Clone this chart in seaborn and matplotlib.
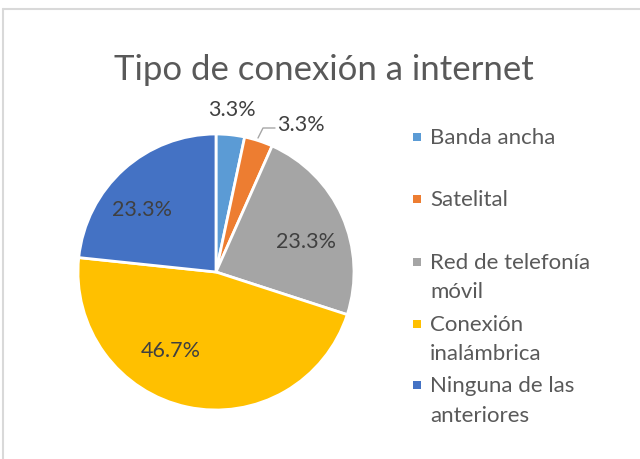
import matplotlib
matplotlib.use("Agg")
import matplotlib.pyplot as plt
import seaborn as sns
from matplotlib.lines import Line2D
from matplotlib.patches import Rectangle

categories = ["Banda ancha", "Satelital", "Red de telefonía móvil",
              "Conexión inalámbrica", "Ninguna de las anteriores"]
legend_labels = ["Banda ancha", "Satelital", "Red de telefonía\nmóvil",
                 "Conexión\ninalámbrica", "Ninguna de las\nanteriores"]
values = [1, 1, 7, 14, 7]
colors = ["#5B9BD5", "#ED7D31", "#A5A5A5", "#FFC000", "#4472C4"]
title = "Tipo de conexión a internet"

sns.set_theme(style="white")
plt.rcParams["font.family"] = ["Lato", "DejaVu Sans"]
TXT = "#595959"
LBL = "#404040"

W, H = 640, 459
fig = plt.figure(figsize=(W / 100, H / 100), dpi=100)
fig.patch.set_facecolor("white")

def fx(x):
    return x / W

def fy(y):
    return 1 - y / H

# chart-area frame
fig.add_artist(Line2D([fx(3), fx(3)], [fy(9), 0], color="#D9D9D9", lw=1.5, transform=fig.transFigure))
fig.add_artist(Line2D([fx(3), 1], [fy(9), fy(9)], color="#D9D9D9", lw=1.5, transform=fig.transFigure))

cx, cy, r = 216, 272, 138
ax = fig.add_axes([fx(cx - r), fy(cy + r), 2 * r / W, 2 * r / H])
wedges, _ = ax.pie(values, colors=colors, startangle=90, counterclock=False,
                   wedgeprops=dict(edgecolor="white", linewidth=2))
ax.set_xlim(-1, 1)
ax.set_ylim(-1, 1)
ax.set_aspect("auto")
ax.axis("off")

total = sum(values)
pcts = [f"{v / total * 100:.1f}%" for v in values]
# label offsets from pie centre, in pixels (Excel best-fit placement)
label_offsets = [(16, -162), (85, -147), (90, -30), (-45, 79), (-74, -62)]
for i, (p, (dx, dy)) in enumerate(zip(pcts, label_offsets)):
    ha = "left" if i == 1 else "center"
    xx = dx / r - (24 / r if i == 1 else 0)
    ax.text(xx, -dy / r, p, ha=ha, va="center", fontsize=15.5, color=LBL, clip_on=False)

# leader line for the Satelital label
ax.plot([(258 - cx) / r, (263 - cx) / r, (275 - cx) / r],
        [-(138 - cy) / r, -(128 - cy) / r, -(128 - cy) / r],
        color="#A6A6A6", lw=1, clip_on=False)

fig.text(fx(324), fy(80), title, ha="center", va="baseline", fontsize=25, color=TXT)

# legend
first_y = [136, 198, 261, 323, 384]
for lab, col, yy in zip(legend_labels, colors, first_y):
    fig.add_artist(Rectangle((fx(413), fy(yy + 5)), 8 / W, 8 / H, facecolor=col,
                             edgecolor="none", transform=fig.transFigure))
    for k, line in enumerate(lab.split("\n")):
        fig.text(fx(430), fy(yy + 8 + k * 29.5), line, ha="left", va="baseline",
                 fontsize=16, color=TXT)

fig.savefig("out.png", dpi=100)
